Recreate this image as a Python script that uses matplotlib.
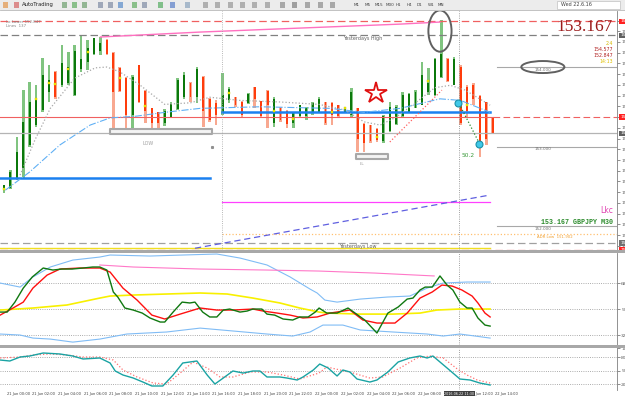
import matplotlib
matplotlib.use('Agg')
import matplotlib.pyplot as plt
from matplotlib.patches import Ellipse, Rectangle

# GBPJPY M30 candles, 21 Jun 00:00 .. 22 Jun 14:00
opens = [152.47, 152.48, 152.60, 152.73, 153.02, 153.27, 153.46, 153.69, 153.94, 153.77,
         153.80, 153.65, 153.98, 154.06, 154.16, 154.20, 154.34, 154.18, 153.99, 153.86,
         153.40, 154.02, 153.70, 153.48, 153.43, 153.29, 153.37, 153.47, 153.62, 153.80,
         153.62, 153.88, 153.60, 153.55, 153.42, 153.58, 153.62, 153.56, 153.55, 153.75,
         153.57, 153.70, 153.30, 153.49, 153.45, 153.30, 153.38, 153.38, 153.42, 153.44,
         153.56, 153.55, 153.52, 153.44, 153.40, 153.49, 153.28, 153.27, 153.22, 153.07,
         153.20, 153.28, 153.38, 153.44, 153.49, 153.52, 153.68, 153.65, 153.87, 154.10,
         153.78, 154.00, 153.75, 153.78, 153.64, 153.56, 153.36]
closes = [152.52, 152.68, 152.93, 153.31, 153.56, 153.59, 153.90, 153.84, 153.62, 154.05,
          154.00, 154.20, 154.10, 154.24, 154.36, 154.30, 154.16, 153.69, 153.70, 153.40,
          153.88, 153.56, 153.45, 153.30, 153.30, 153.45, 153.54, 153.84, 153.90, 153.62,
          153.98, 153.45, 153.33, 153.40, 153.65, 153.72, 153.52, 153.40, 153.66, 153.60,
          153.38, 153.52, 153.60, 153.33, 153.28, 153.42, 153.52, 153.48, 153.55, 153.60,
          153.30, 153.40, 153.38, 153.49, 153.68, 153.10, 153.05, 153.07, 153.08, 153.38,
          153.50, 153.50, 153.65, 153.66, 153.68, 153.90, 153.80, 154.10, 154.17, 153.82,
          154.10, 153.30, 153.45, 153.60, 153.05, 153.10, 153.167]
highs = [152.52, 152.70, 153.12, 153.71, 153.81, 153.77, 154.11, 154.03, 153.95, 154.28,
         154.19, 154.28, 154.40, 154.34, 154.37, 154.38, 154.35, 154.19, 154.00, 153.87,
         153.90, 154.03, 153.71, 153.49, 153.44, 153.47, 153.56, 153.86, 153.94, 153.81,
         154.00, 153.89, 153.61, 153.59, 153.92, 153.75, 153.62, 153.57, 153.67, 153.75,
         153.57, 153.71, 153.62, 153.50, 153.46, 153.42, 153.52, 153.50, 153.56, 153.62,
         153.56, 153.56, 153.52, 153.50, 153.74, 153.49, 153.30, 153.27, 153.23, 153.40,
         153.56, 153.52, 153.69, 153.67, 153.71, 154.06, 153.99, 154.11, 154.59, 154.11,
         154.13, 154.03, 153.77, 153.80, 153.65, 153.56, 153.36]
lows = [152.41, 152.46, 152.58, 152.60, 153.00, 153.25, 153.44, 153.56, 153.60, 153.75,
        153.77, 153.64, 153.94, 153.96, 154.15, 154.15, 154.15, 153.23, 153.68, 153.23,
        153.23, 153.55, 153.30, 153.23, 153.23, 153.26, 153.36, 153.46, 153.60, 153.56,
        153.55, 153.25, 153.31, 153.27, 153.40, 153.55, 153.50, 153.37, 153.54, 153.48,
        153.37, 153.23, 153.24, 153.31, 153.23, 153.23, 153.37, 153.33, 153.40, 153.42,
        153.27, 153.27, 153.36, 153.42, 153.36, 152.93, 152.93, 153.05, 153.06, 153.05,
        153.18, 153.27, 153.36, 153.43, 153.48, 153.52, 153.65, 153.64, 153.86, 153.81,
        153.77, 153.27, 153.36, 153.52, 152.87, 153.02, 153.16]

# yellow dots on some bars
dot_bar = [0, 5, 7, 8, 10, 13, 18, 22, 35, 42, 45, 51, 53, 58, 66, 72]
dot_price = [152.47, 153.60, 153.80, 153.79, 153.98, 154.19, 153.86, 153.51, 153.67,
             153.45, 153.35, 153.43, 153.48, 153.12, 153.82, 153.52]

# moving averages (bar index, price)
ma_slow_x = [2.5, 4.8, 7.2, 11, 14.2, 16, 18, 21.2, 25, 29, 32, 36.7, 43, 49, 53, 56,
             58.5, 61, 64, 67, 69.4, 71.7, 75.6]
ma_slow_y = [152.64, 153.08, 153.48, 153.86, 153.99, 154.0, 153.94, 153.77, 153.53, 153.55,
             153.62, 153.58, 153.56, 153.53, 153.46, 153.31, 153.27, 153.37, 153.55, 153.74,
             153.77, 153.71, 153.52]
ma_blue_x = [0.2, 4, 8.7, 13.4, 16.5, 20.4, 25, 30.5, 39.8, 50.7, 56, 61.6, 67.8, 71, 75.6]
ma_blue_y = [152.45, 152.68, 153.02, 153.27, 153.36, 153.38, 153.43, 153.48, 153.50, 153.48,
             153.43, 153.48, 153.60, 153.58, 153.43]

# levels
today_high = 154.577
today_low = 152.847
yest_high = 154.40
yest_low = 151.786
adr_low = 151.902
red_level = 153.37
bid = 153.167
blue_level_1 = 152.604
blue_level_2 = 153.434
magenta_level = 152.30
round_levels = [154.0, 153.0, 152.0]
pink_x = [15, 30.5, 46, 61.6, 67.8]
pink_y = [154.378, 154.44, 154.49, 154.54, 154.566]
trend_x = [29.7, 75.6]
trend_y = [151.72, 152.39]

# RSI pane
rsi_x = [-0.6, 0.5, 1.7, 3.0, 4.4, 6.1, 7.6, 9.0, 10.6, 12.3, 13.8, 14.9, 16.0, 17.0, 17.7,
         18.8, 20.1, 21.5, 22.7, 24.3, 25.0, 26.3, 27.7, 28.9, 29.7, 30.9, 32.0, 33.1, 34.1,
         35.1, 36.7, 37.8, 38.7, 40.1, 40.9, 42.1, 43.4, 44.9, 46.0, 47.3, 48.4, 49.0, 50.2,
         51.8, 53.5, 54.6, 56.1, 58.0, 59.7, 61.3, 62.7, 63.6, 64.7, 65.5, 66.6, 67.8, 68.9,
         69.8, 70.9, 72.0, 72.8, 73.7, 74.8, 75.6]
rsi_y = [47.9, 47.9, 54.8, 64.5, 72.2, 78.4, 77.0, 77.7, 77.7, 78.4, 79.1, 79.1, 77.0, 61.8,
         58.3, 50.7, 49.3, 47.2, 43.8, 41.0, 41.0, 47.9, 54.8, 54.2, 54.8, 47.9, 44.5, 44.5,
         49.3, 50.0, 47.9, 48.6, 50.0, 50.0, 46.5, 45.8, 43.1, 42.4, 44.5, 44.5, 47.9, 50.7,
         47.2, 47.2, 50.7, 47.2, 42.4, 33.4, 47.2, 51.4, 56.9, 57.6, 63.2, 65.2, 65.2, 72.9,
         66.6, 63.2, 54.8, 50.7, 50.7, 43.8, 38.9, 38.2]
sig_x = [-0.6, 1.4, 3.0, 4.5, 6.7, 8.7, 11.8, 14.9, 16.5, 18.5, 20.7, 23.0, 25.0, 27.4, 30.5,
         33.1, 35.6, 38.7, 40.3, 42.5, 44.5, 46.5, 48.7, 50.7, 53.8, 55.8, 58.0, 60.8, 62.7,
         64.7, 66.6, 68.1, 69.7, 71.2, 72.8, 73.7, 74.8, 75.6]
sig_y = [45.8, 50.7, 54.8, 64.5, 73.5, 77.7, 78.4, 78.4, 75.6, 64.5, 56.2, 45.8, 43.1, 46.5,
         50.7, 49.3, 49.3, 50.0, 48.6, 47.2, 45.8, 43.8, 44.5, 47.2, 49.3, 42.4, 40.3, 40.3,
         47.2, 57.6, 61.8, 66.6, 65.9, 63.2, 59.0, 54.2, 47.2, 44.5]
mid_x = [-0.6, 4.5, 9.8, 14.9, 16.5, 20.1, 25.3, 30.5, 34.7, 38.7, 42.9, 46.0, 49.0, 50.2,
         55.4, 60.5, 64.7, 67.3, 70.9, 75.6]
mid_y = [49.3, 50.7, 52.8, 57.6, 59.0, 59.7, 60.4, 61.1, 60.4, 57.6, 54.2, 50.7, 47.9, 47.2,
         46.5, 46.5, 47.2, 49.3, 50.0, 50.0]
up_x = [-0.6, 2.5, 4.5, 7.2, 10.7, 14.9, 16.5, 22.7, 27.8, 33.1, 36.7, 40.9, 44.5, 47.6,
        48.7, 49.9, 51.8, 55.4, 59.6, 63.1, 65.8, 68.3, 72.0, 75.6]
up_y = [68.0, 65.2, 72.2, 79.1, 83.9, 86.0, 87.4, 86.7, 87.4, 88.1, 85.3, 80.5, 72.2, 63.8,
        61.1, 56.2, 54.8, 56.9, 58.3, 59.0, 64.5, 68.0, 68.7, 68.7]
lo_x = [-0.6, 2.5, 4.5, 7.2, 10.7, 14.9, 19.1, 25.3, 30.5, 35.6, 40.9, 44.9, 47.6, 49.6,
        52.7, 55.4, 60.5, 65.8, 68.3, 70.9, 75.6]
lo_y = [32.7, 32.0, 29.9, 29.2, 27.1, 29.2, 32.7, 34.1, 36.8, 34.8, 32.7, 31.3, 34.1, 38.9,
        38.9, 35.5, 34.1, 32.7, 31.3, 32.7, 29.9]
pk_x = [14.9, 20.1, 25.3, 30.5, 40.9, 49.0, 57.7, 66.9]
pk_y = [80.5, 79.1, 78.4, 77.7, 77.0, 76.3, 74.9, 72.9]

# stochastic pane
sto_x = [-0.6, 0.9, 2.5, 4.0, 6.1, 8.7, 10.7, 12.3, 14.9, 16.5, 17.3, 18.5, 20.1, 21.6, 23.0,
         24.7, 26.3, 27.8, 30.0, 31.6, 32.8, 34.1, 35.6, 37.2, 38.7, 39.8, 40.9, 42.9, 44.0,
         45.6, 46.5, 48.1, 49.1, 50.4, 51.8, 52.7, 53.8, 54.9, 56.9, 58.0, 59.7, 61.3, 63.1,
         64.7, 65.8, 66.7, 68.9, 70.9, 72.5, 74.0, 75.6]
sto_y = [73.3, 71.1, 80.0, 82.2, 88.9, 86.7, 82.2, 75.6, 77.8, 66.7, 48.9, 40.0, 33.3, 24.4,
         15.6, 15.6, 40.0, 66.7, 71.1, 40.0, 20.0, 33.3, 48.9, 44.4, 48.9, 48.9, 35.6, 35.6,
         33.3, 28.9, 35.6, 51.1, 64.4, 55.6, 37.8, 51.1, 46.7, 31.1, 24.4, 28.9, 46.7, 68.9,
         77.8, 82.2, 77.8, 82.2, 55.6, 31.1, 28.9, 22.2, 17.8]
stos_x = [-0.6, 2.5, 4.5, 7.2, 9.8, 12.3, 14.9, 17.0, 18.5, 20.7, 23.2, 25.3, 27.4, 29.4,
          31.6, 33.6, 35.6, 38.3, 40.9, 43.4, 46.0, 49.0, 50.2, 52.3, 54.3, 56.9, 58.9, 61.6,
          64.2, 66.3, 68.3, 70.5, 72.0, 73.6, 75.6]
stos_y = [77.8, 80.0, 84.4, 86.7, 84.4, 80.0, 80.0, 73.3, 51.1, 35.6, 22.2, 20.0, 44.4, 68.9,
          55.6, 35.6, 35.6, 46.7, 46.7, 40.0, 31.1, 44.4, 57.8, 51.1, 44.4, 33.3, 35.6, 55.6,
          77.8, 82.2, 77.8, 53.3, 40.0, 28.9, 22.2]

time_labels = ['21 Jun 00:00', '21 Jun 02:00', '21 Jun 04:00', '21 Jun 06:00', '21 Jun 08:00',
               '21 Jun 10:00', '21 Jun 12:00', '21 Jun 14:00', '21 Jun 16:00', '21 Jun 18:00',
               '21 Jun 20:00', '21 Jun 22:00', '22 Jun 00:00', '22 Jun 02:00', '22 Jun 04:00',
               '22 Jun 06:00', '22 Jun 08:00', '22 Jun 10:00', '22 Jun 12:00', '22 Jun 14:00']
price_ticks = [154.585, 154.450, 154.315, 154.180, 154.045, 153.910, 153.775, 153.640,
               153.505, 153.370, 153.235, 153.100, 152.965, 152.830, 152.695, 152.560,
               152.425, 152.290, 152.155, 152.020, 151.885, 151.750]
timeframes = ['M1', 'M5', 'M15', 'M30', 'H1', 'H4', 'D1', 'W1', 'MN']

W, H = 625, 398
XMIN, XMAX = -0.62, 95.33
crosshair = 70.8
session_line = 33.9

fig = plt.figure(figsize=(6.25, 3.98), dpi=100)
fig.patch.set_facecolor('white')


def fy(px):
    return 1 - px / H


def pane(top, bottom):
    ax = fig.add_axes([0, fy(bottom), 617 / W, (bottom - top) / H])
    ax.set_xlim(XMIN, XMAX)
    for s in ['left', 'top', 'bottom']:
        ax.spines[s].set_visible(False)
    ax.spines['right'].set_color('#808080')
    ax.spines['right'].set_linewidth(0.6)
    ax.yaxis.tick_right()
    ax.tick_params(axis='y', labelsize=3.2, colors='#606060', length=2, width=0.5, pad=1)
    ax.tick_params(axis='x', bottom=False, labelbottom=False)
    return ax


# toolbar
fig.add_artist(Rectangle((0, fy(10)), 1, 10 / H, transform=fig.transFigure,
                         fc='#ececec', ec='none'))
fig.add_artist(plt.Line2D([0, 1], [fy(10), fy(10)], transform=fig.transFigure,
                          color='#b8b8b8', lw=0.6))
icon_x = [3, 14, 62, 72, 82, 98, 108, 118, 132, 142, 158, 170, 185, 203, 215, 228, 240,
          252, 265, 280, 292, 305, 318, 330]
icon_c = ['#e08020', '#d04040', '#4a8a4a', '#3a9a3a', '#4a8a4a', '#607090', '#607090',
          '#3070c0', '#3a9a3a', '#607090', '#2a9a3a', '#3060c0', '#7090b0', '#808080',
          '#808080', '#808080', '#808080', '#808080', '#808080', '#707070', '#606060',
          '#707070', '#707070', '#707070']
for x, c in zip(icon_x, icon_c):
    fig.add_artist(Rectangle((x / W, fy(8)), 5 / W, 6 / H, transform=fig.transFigure,
                             fc=c, ec='none', alpha=0.55))
fig.text(22 / W, fy(4.5), 'AutoTrading', fontsize=3.8, va='center', color='#202020')
for k, tf in enumerate(timeframes):
    fig.text((354 + 10.5 * k) / W, fy(4.5), tf, fontsize=3, va='center', color='#404040')
fig.add_artist(Rectangle((557 / W, fy(9)), 63 / W, 8.5 / H, transform=fig.transFigure,
                         fc='white', ec='#c0c0c0', lw=0.5))
fig.text(561 / W, fy(4.5), 'Wed 22.6.16', fontsize=3.5, va='center', color='#404040')

# pane separators
for top, h in [(250, 3), (345, 3)]:
    fig.add_artist(Rectangle((0, fy(top + h)), 1, h / H, transform=fig.transFigure,
                             fc='#a8a8a8', ec='none'))

# ---------------- main price pane ----------------
ax = pane(11, 250)
ax.set_ylim(151.698, 154.705)
ax.set_yticks(price_ticks)
ax.set_yticklabels(['%.3f' % p for p in price_ticks])

ax.axhline(today_high, color='#f06060', ls=(0, (6, 3)), lw=0.9)
ax.axhline(yest_high, color='#808080', ls=(0, (6, 3)), lw=0.9)
ax.axhline(yest_low, color='#a0a0a0', ls=(0, (6, 3)), lw=0.9)
ax.plot([XMIN, 75.6], [151.723, 151.723], color='#f0e020', lw=1.0)
ax.axhline(151.700, color='#f06060', ls=(0, (6, 3)), lw=0.9)
ax.plot([XMIN, 76], [red_level, red_level], color='#f06060', lw=0.8)
ax.plot([76, XMAX], [red_level, red_level], color='#f06060', ls=(0, (6, 3)), lw=0.8)
ax.axhline(bid, color='#b4b4b4', lw=0.9)
ax.plot([session_line, XMAX], [adr_low, adr_low], color='#ffc070', ls=':', lw=0.9)
for lv in round_levels:
    ax.plot([76.7, XMAX], [lv, lv], color='#a8a8a8', lw=0.8)
    ax.text(83.8, lv - 0.035, '%.3f' % lv, fontsize=3, color='#707070', ha='center', va='center')

ax.plot(pink_x, pink_y, color='#ff70c0', lw=1.0)
ax.plot([XMIN, 32], [blue_level_1, blue_level_1], color='#1a80f0', lw=1.8)
ax.plot([session_line, 75.6], [blue_level_2, blue_level_2], color='#1a80f0', lw=1.8)
ax.plot([session_line, 75.6], [magenta_level, magenta_level], color='#ff40ff', lw=0.9)
ax.plot(trend_x, trend_y, color='#6060e0', ls=(0, (5, 3)), lw=0.9)

ax.axvline(session_line, color='#a0a0a0', ls=':', lw=0.6)
ax.axvline(crosshair, color='#808080', ls=':', lw=0.6)

ax.plot(ma_slow_x, ma_slow_y, color='#a8a8a8', ls=':', lw=0.9)
ax.plot(ma_blue_x, ma_blue_y, color='#60b0f5', ls='-.', lw=0.8)

for i, (o, h, l, c) in enumerate(zip(opens, highs, lows, closes)):
    up = c >= o
    wick = '#80c480' if up else '#f8a890'
    body = '#0b780b' if up else '#ff3c0c'
    ax.bar(i, h - l, bottom=l, width=0.40, color=wick, lw=0)
    ax.bar(i, max(abs(c - o), 0.012), bottom=min(o, c), width=0.30, color=body, lw=0)

ax.plot(dot_bar, dot_price, ls='none', marker='s', ms=2.0, color='#f4f400', mec='#d0c800',
        mew=0.3)

ax.plot([60.0, 68.1], [153.057, 153.71], color='#ff6060', ls=':', lw=0.9)
ax.plot([70.8, 73.9], [153.535, 153.044], color='#2a8a2a', ls=':', lw=0.9)
ax.plot([70.6, 73.9], [153.547, 153.032], ls='none', marker='o', ms=5, mfc='#40c8e8',
        mec='#1890a8', mew=0.8)
ax.plot([32.3], [152.99], ls='none', marker='s', ms=1.2, color='#909090')

ax.add_patch(Rectangle((16.5, 153.157), 15.8, 0.063, fc='#f4f4f4', ec='#a8a8a8', lw=1.5,
                       joinstyle='round', zorder=3))
ax.add_patch(Rectangle((54.7, 152.843), 5.0, 0.063, fc='#f4f4f4', ec='#a8a8a8', lw=1.5,
                       joinstyle='round', zorder=3))
ax.text(22.4, 153.044, 'LOW', fontsize=3.5, color='#a0a0a0', ha='center', va='center')
ax.text(55.7, 152.78, 'LL', fontsize=3.2, color='#a0a0a0', ha='center', va='center')
ax.text(71.2, 152.893, '50.2', fontsize=4.2, color='#3a9a3a', va='center')

ax.plot([57.9], [153.673], ls='none', marker='*', ms=16, mfc='white', mec='#e01010', mew=1.3)
ax.add_patch(Ellipse((67.8, 154.453), 3.6, 0.52, fill=False, ec='#606060', lw=1.4, zorder=5))
ax.add_patch(Ellipse((83.8, 154.0), 6.7, 0.151, fill=False, ec='#606060', lw=1.4, zorder=5))

ax.text(55.8, 154.365, 'Yesterdays High', fontsize=3.5, color='#606060', ha='center',
        va='center')
ax.text(55.0, 151.745, 'Yesterdays Low', fontsize=3.5, color='#606060', ha='center',
        va='center')
ax.text(82.9, 151.86, 'ADR Low  %.3f' % adr_low, fontsize=2.8, color='#f0a030', va='center')
ax.text(0.3, 154.57, 'Lo Lower %.3f' % today_low, fontsize=2.8, color='#808080', va='center')
ax.text(0.3, 154.51, 'Lines  137', fontsize=2.8, color='#808080', va='center')

ax.text(94.7, 154.50, '%.3f' % bid, fontsize=12.5, family='Liberation Serif',
        color='#9b1b1b', ha='right', va='center')
side = [('2.4', '#d8b800', 154.29), ('%.3f' % today_high, '#b02020', 154.22),
        ('%.3f' % today_low, '#b02020', 154.151), ('14:13', '#e0c000', 154.075)]
for s, col, y in side:
    ax.text(94.7, y, s, fontsize=3.4, color=col, ha='right', va='center')
ax.text(94.7, 152.19, 'Lkc', fontsize=5.5, color='#e040b0', ha='right', va='center')
ax.text(94.7, 152.05, '%.3f GBPJPY M30' % bid, fontsize=4.8, color='#2a8a2a', ha='right',
        va='center', family='Liberation Mono', fontweight='bold')

tags = [(today_high, '#ff2020'), (yest_high, '#606060'), (red_level, '#ff2020'),
        (bid, '#606060'), (yest_low, '#707070'), (151.70, '#ff2020')]
for y, col in tags:
    ax.text(1.005, y, '%.3f' % y, transform=ax.get_yaxis_transform(), fontsize=3.2,
            color='white', va='center', clip_on=False,
            bbox=dict(boxstyle='square,pad=0.15', fc=col, ec='none'))

# ---------------- RSI pane ----------------
ar = pane(253, 345)
ar.set_ylim(25.1, 88.8)
ar.set_yticks([68, 50, 32])
ar.set_yticklabels(['68.00', '50.00', '32.00'])
for lv in [68, 50, 32]:
    ar.axhline(lv, color='#909090', ls=':', lw=0.6)
ar.axvline(crosshair, color='#808080', ls=':', lw=0.6)
ar.plot(up_x, up_y, color='#80bcf5', lw=0.8)
ar.plot(lo_x, lo_y, color='#80bcf5', lw=0.8)
ar.plot(pk_x, pk_y, color='#ff78c8', lw=0.8)
ar.plot(mid_x, mid_y, color='#f8f000', lw=1.2)
ar.plot(sig_x, sig_y, color='#ff1010', lw=1.0)
ar.plot(rsi_x, rsi_y, color='#107810', lw=1.0)

# ---------------- stochastic pane ----------------
st = pane(348, 390)
st.set_ylim(6.7, 100)
st.set_yticks([100, 80, 50, 20])
st.set_yticklabels(['100', '80', '50', '20'])
for lv in [80, 50, 20]:
    st.axhline(lv, color='#909090', ls=':', lw=0.6)
st.axvline(crosshair, color='#808080', ls=':', lw=0.6)
st.plot(stos_x, stos_y, color='#ff7070', ls=':', lw=0.9)
st.plot(sto_x, sto_y, color='#1aa3a3', lw=1.0)

# time scale, crosshair box drawn on top of it
for k, lab in enumerate(time_labels):
    st.text(4 * k + 0.4, -0.09, lab, transform=st.get_xaxis_transform(), fontsize=2.6,
            color='#404040', va='center', clip_on=False)
st.text(crosshair, -0.09, '2016.06.22 11:30', transform=st.get_xaxis_transform(),
        fontsize=2.4, color='white', va='center', ha='center', clip_on=False,
        bbox=dict(boxstyle='square,pad=0.2', fc='#404040', ec='none'), zorder=6)

fig.savefig('out.png', dpi=100)
